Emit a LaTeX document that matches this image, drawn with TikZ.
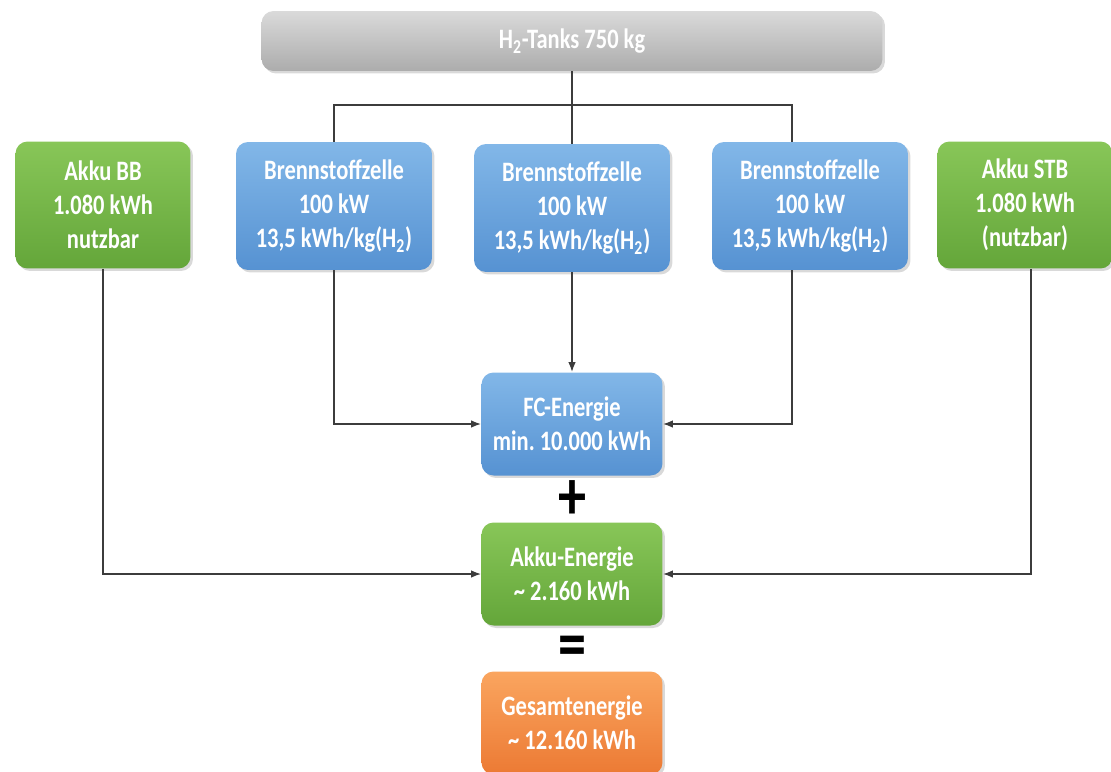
\documentclass[tikz,border=0pt]{standalone}
\usepackage{fontspec}
\setmainfont[FakeStretch=0.8]{Carlito}
\usetikzlibrary{shadows,arrows.meta}

\definecolor{grauOben}{RGB}{218,218,218}
\definecolor{grauUnten}{RGB}{172,172,172}
\definecolor{blauOben}{RGB}{130,183,232}
\definecolor{blauUnten}{RGB}{86,146,210}
\definecolor{gruenOben}{RGB}{136,198,88}
\definecolor{gruenUnten}{RGB}{100,166,58}
\definecolor{orangeOben}{RGB}{250,165,95}
\definecolor{orangeUnten}{RGB}{236,122,52}
\definecolor{linienfarbe}{RGB}{60,60,60}

\begin{document}
\begin{tikzpicture}[x=0.02cm, y=-0.02cm,
    kasten/.style={rounded corners=0.24cm, text=white, align=center,
        font=\bfseries\fontsize{16}{19.4}\selectfont, inner sep=0pt,
        drop shadow={shadow xshift=0.05cm, shadow yshift=-0.05cm, opacity=0.3}},
    tankbox/.style={kasten, top color=grauOben, bottom color=grauUnten,
        minimum width=12.42cm, minimum height=1.2cm},
    bzbox/.style={kasten, top color=blauOben, bottom color=blauUnten,
        minimum width=3.92cm, minimum height=2.56cm},
    akkubox/.style={kasten, top color=gruenOben, bottom color=gruenUnten,
        minimum width=3.5cm, minimum height=2.54cm},
    summenbox/.style={kasten, minimum width=3.62cm, minimum height=2.06cm},
    zeichen/.style={font=\bfseries\fontsize{40}{40}\selectfont, text=black, inner sep=0pt},
    linie/.style={draw=linienfarbe, line width=0.85pt},
    pfeil/.style={linie, -{Latex[length=0.2cm, width=0.15cm]}}]

    % Rahmen
    \useasboundingbox (0,0) rectangle (1111,771);

    % Tank oben
    \node[tankbox] (tank) at (572,41) {H\textsubscript{2}-Tanks 750 kg};
    \coordinate (verteiler) at (572,105);

    % Akkus und Brennstoffzellen
    \node[akkubox] (bb) at (103,205) {Akku BB\\1.080 kWh\\nutzbar};
    \node[bzbox] (bz1) at (334,206) {Brennstoffzelle\\100 kW\\13,5 kWh/kg(H\textsubscript{2})};
    \node[bzbox] (bz2) at (572,208) {Brennstoffzelle\\100 kW\\13,5 kWh/kg(H\textsubscript{2})};
    \node[bzbox] (bz3) at (810,206) {Brennstoffzelle\\100 kW\\13,5 kWh/kg(H\textsubscript{2})};
    \node[akkubox] (stb) at (1025,205) {Akku STB\\1.080 kWh\\(nutzbar)};

    % Summen
    \node[summenbox, top color=blauOben, bottom color=blauUnten] (fc) at (572,424) {FC-Energie\\min.\ 10.000 kWh};
    \node[zeichen] (plus) at (572,500) {+};
    \node[summenbox, top color=gruenOben, bottom color=gruenUnten] (akku) at (572,574) {Akku-Energie\\\textasciitilde{} 2.160 kWh};
    \node[zeichen] (gleich) at (572,652) {=};
    \node[summenbox, top color=orangeOben, bottom color=orangeUnten] (gesamt) at (572,723) {Gesamtenergie\\\textasciitilde{} 12.160 kWh};

    % Wasserstoffleitungen
    \draw[linie] (tank.south) -- (verteiler) -- (bz2.north);
    \draw[linie] (bz1.north) |- (verteiler) -| ([xshift=-0.36cm]bz3.north);

    % Energiepfeile
    \draw[pfeil] (bz1.south) |- (fc.west);
    \draw[pfeil] (bz2.south) -- (fc.north);
    \draw[pfeil] ([xshift=-0.36cm]bz3.south) |- (fc.east);
    \draw[pfeil] (bb.south) |- (akku.west);
    \draw[pfeil] ([xshift=0.12cm]stb.south) |- (akku.east);
\end{tikzpicture}
\end{document}
